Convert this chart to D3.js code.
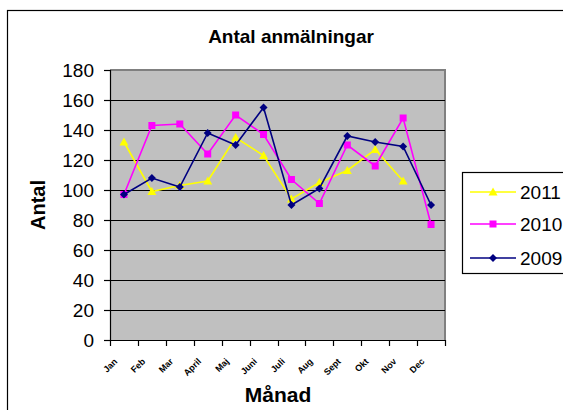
<!DOCTYPE html>
<html><head><meta charset="utf-8">
<script src="https://cdn.jsdelivr.net/npm/d3@7"></script>
<style>html,body{margin:0;background:#fff;overflow:hidden}svg{display:block}</style>
</head><body>
<script>
const months = ["Jan","Feb","Mar","April","Maj","Juni","Juli","Aug","Sept","Okt","Nov","Dec"];
const v2011 = [132,99,103,106,135,123,94,105,113,127,106,null];
const v2010 = [97,143,144,124,150,137,107,91,130,116,148,77];
const v2009 = [97,108,102,138,130,155,90,101,136,132,129,90];
const yTicks = [0,20,40,60,80,100,120,140,160,180];
const seriesNames = ["2011","2010","2009"];
const seriesColors = ["#FFFF00","#FF00FF","#000080"];
const seriesShapes = ["triangle","square","diamond"];
const seriesValues = [v2011, v2010, v2009];

const FONT = "Liberation Sans, Arial, sans-serif";
const W = 563, H = 410;
const svg = d3.select("body").append("svg").attr("width", W).attr("height", H);
svg.append("rect").attr("width", W).attr("height", H).attr("fill", "#fff");
// outer frame (extends past right/bottom edges)
svg.append("rect").attr("x", 7.5).attr("y", 10.5).attr("width", 600).attr("height", 450)
  .attr("fill", "none").attr("stroke", "#000").attr("stroke-width", 1.2);

const L = 110, R = 445, T = 70, B = 340;
const x = d3.scaleBand().domain(months).range([L, R]);
const y = d3.scaleLinear().domain([0, 180]).range([B, T]);
const cx = m => x(m) + x.bandwidth() / 2;

svg.append("rect").attr("x", L).attr("y", T).attr("width", R - L).attr("height", B - T)
  .attr("fill", "#C0C0C0");
// plot border (gray)
svg.append("path").attr("d", `M${L},${T}H${R}V${B}`).attr("fill", "none")
  .attr("stroke", "#808080").attr("stroke-width", 2);

// gridlines
svg.append("g").selectAll("line").data(yTicks.filter(d => d > 0 && d < 180)).join("line")
  .attr("x1", L).attr("x2", R).attr("y1", d => Math.round(y(d)) + 0.5).attr("y2", d => Math.round(y(d)) + 0.5)
  .attr("stroke", "#000").attr("stroke-width", 1.2);

// y axis
const yAxis = d3.axisLeft(y).tickValues(yTicks).tickSize(6).tickPadding(10).tickFormat(d3.format("d"));
const gy = svg.append("g").attr("transform", `translate(${L},0)`).call(yAxis);
gy.select(".domain").attr("stroke", "#000").attr("stroke-width", 1.2);
gy.selectAll(".tick line").attr("stroke", "#000").attr("stroke-width", 1.2);
gy.selectAll("text").attr("font-family", FONT).attr("font-size", 19).attr("fill", "#000").attr("dy", "0.36em");

// x axis
const gx = svg.append("g").attr("transform", `translate(0,${B})`)
  .call(d3.axisBottom(x).tickSize(0).tickFormat(""));
gx.select(".domain").attr("stroke", "#000").attr("stroke-width", 1.2).attr("d", `M${L},0.5H${R}`);
const bounds = months.map((m) => x(m)).concat([R]);
gx.selectAll(".sep").data(bounds).join("line").attr("class", "sep")
  .attr("x1", d => Math.round(d) + 0.5).attr("x2", d => Math.round(d) + 0.5)
  .attr("y1", 0).attr("y2", 6).attr("stroke", "#000").attr("stroke-width", 1.2);
svg.append("g").selectAll("text").data(months).join("text")
  .attr("transform", d => `translate(${cx(d) - 6},${B + 22}) rotate(-45)`)
  .attr("text-anchor", "end")
  .attr("font-family", FONT).attr("font-size", 9).attr("font-weight", "bold")
  .text(d => d);

// series
function marker(g, shape, color) {
  if (shape === "triangle") g.append("path").attr("d", "M0,-4.5L4.5,3.5L-4.5,3.5Z").attr("fill", color);
  else if (shape === "square") g.append("rect").attr("x", -3.5).attr("y", -3.5).attr("width", 7).attr("height", 7).attr("fill", color);
  else g.append("path").attr("d", "M0,-4L4,0L0,4L-4,0Z").attr("fill", color);
}
const line = d3.line().defined(d => d.v != null).x(d => cx(d.m)).y(d => y(d.v));
seriesValues.forEach((vals, i) => {
  const data = months.map((m, j) => ({ m, v: vals[j] }));
  svg.append("path").datum(data).attr("d", line).attr("fill", "none")
    .attr("stroke", seriesColors[i]).attr("stroke-width", 1.6);
  data.filter(d => d.v != null).forEach(d => {
    const g = svg.append("g").attr("transform", `translate(${cx(d.m)},${y(d.v)})`);
    marker(g, seriesShapes[i], seriesColors[i]);
  });
});

// title & axis titles
svg.append("text").attr("x", 291).attr("y", 43).attr("text-anchor", "middle")
  .attr("font-family", FONT).attr("font-size", 19).attr("font-weight", "bold")
  .text("Antal anmälningar");
svg.append("text").attr("transform", "translate(45,205) rotate(-90)").attr("text-anchor", "middle")
  .attr("font-family", FONT).attr("font-size", 20).attr("font-weight", "bold")
  .text("Antal");
svg.append("text").attr("x", 278).attr("y", 402).attr("text-anchor", "middle")
  .attr("font-family", FONT).attr("font-size", 21).attr("font-weight", "bold")
  .text("Månad");

// legend
const lg = svg.append("g");
lg.append("rect").attr("x", 462.5).attr("y", 172.5).attr("width", 200).attr("height", 101)
  .attr("fill", "#fff").attr("stroke", "#000").attr("stroke-width", 1.2);
const legY = [192, 224, 258];
seriesNames.forEach((n, i) => {
  lg.append("line").attr("x1", 470).attr("x2", 516).attr("y1", legY[i]).attr("y2", legY[i])
    .attr("stroke", seriesColors[i]).attr("stroke-width", 1.6);
  marker(lg.append("g").attr("transform", `translate(493,${legY[i]})`), seriesShapes[i], seriesColors[i]);
  lg.append("text").attr("x", 520).attr("y", legY[i] + 7)
    .attr("font-family", FONT).attr("font-size", 19).text(n);
});
</script>
</body></html>
